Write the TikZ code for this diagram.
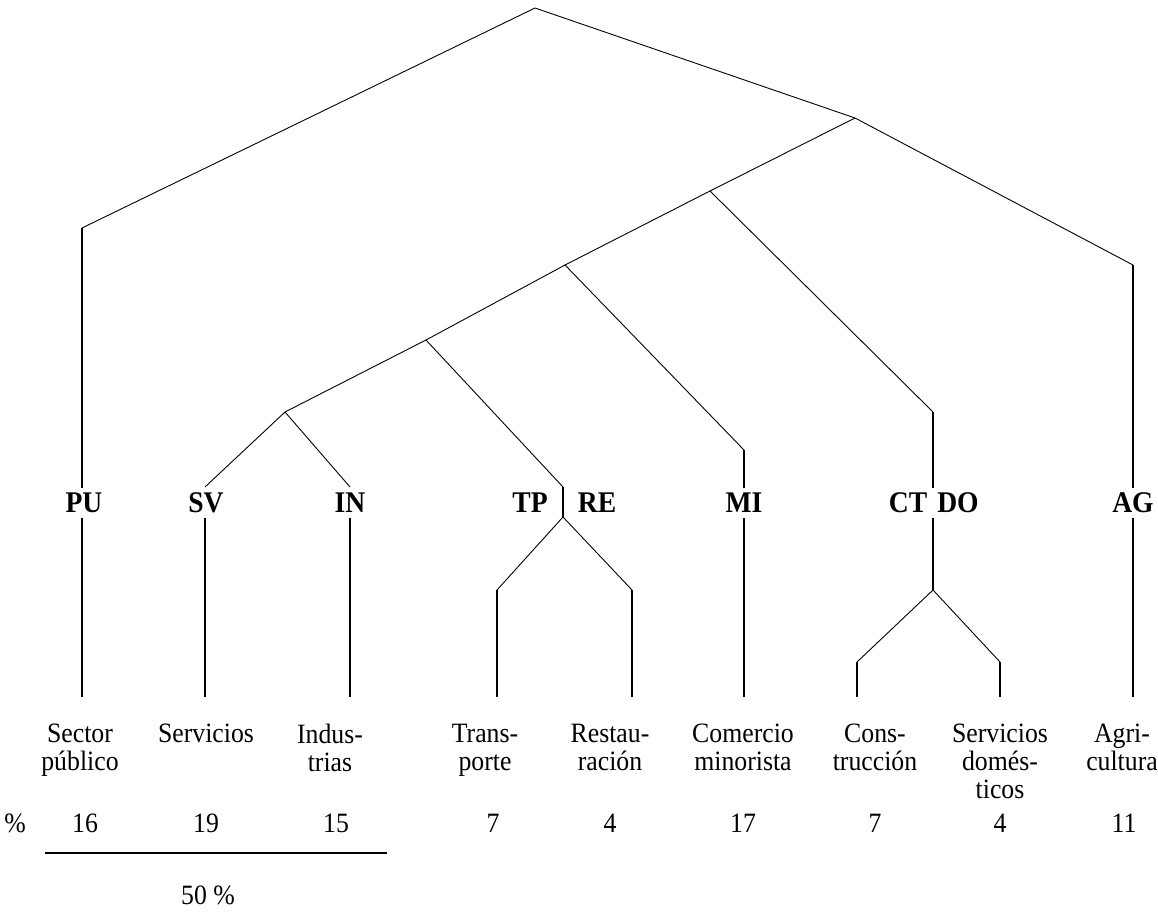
\documentclass[tikz,border=0pt]{standalone}
\usepackage{fontspec}
\setmainfont[FakeStretch=0.92]{Liberation Serif}
\tikzset{
    thin-branch/.style = {draw, line width=0.9pt},
    thick-stem/.style = {draw, line width=2pt},
    sector-code/.style = {font=\fontsize{30}{30}\selectfont\bfseries, inner sep=5pt},
    sector-name/.style = {font=\fontsize{28}{28}\selectfont, align=center, inner sep=0pt, anchor=north},
    sector-share/.style = {font=\fontsize{28}{28}\selectfont, inner sep=0pt, anchor=base},
}

\begin{document}
\begin{tikzpicture}[x=1pt, y=-1pt]
\useasboundingbox (0,0) rectangle (1158,923);

\coordinate (root) at (535,8);
\coordinate (fork-a) at (855,118);
\coordinate (fork-b) at (710,191);
\coordinate (fork-c) at (565,265);
\coordinate (fork-d) at (426,340);
\coordinate (fork-e) at (285,412);

\node[sector-code] (PU) at (84,503) {PU};
\node[sector-code] (SV) at (206,503) {SV};
\node[sector-code] (IN) at (350,503) {IN};
\node[sector-code] (TP) at (530,503) {TP};
\node[sector-code] (RE) at (597,503) {RE};
\node[sector-code] (MI) at (744,503) {MI};
\node[sector-code] (CT) at (908,503) {CT};
\node[sector-code] (DO) at (958,503) {DO};
\node[sector-code] (AG) at (1133,503) {AG};

\coordinate (PU-top) at (82,228);
\coordinate (AG-top) at (1133,265);
\coordinate (CTDO-top) at (933,412);
\coordinate (MI-top) at (744,450);
\coordinate (TPRE-top) at (563,487);
\coordinate (TPRE-fork) at (563,517);
\coordinate (CTDO-fork) at (933,590);
\coordinate (SV-top) at (205,487);
\coordinate (IN-top) at (350,487);
\coordinate (TP-end) at (497,590);
\coordinate (RE-end) at (632,590);
\coordinate (CT-end) at (857,662);
\coordinate (DO-end) at (1000,662);

\draw[thin-branch] (PU-top) -- (root) -- (fork-a) -- (AG-top);
\draw[thin-branch] (fork-a) -- (fork-b) -- (CTDO-top);
\draw[thin-branch] (fork-b) -- (fork-c) -- (MI-top);
\draw[thin-branch] (fork-c) -- (fork-d) -- (TPRE-top);
\draw[thin-branch] (fork-d) -- (fork-e) -- (SV-top);
\draw[thin-branch] (fork-e) -- (IN-top);
\draw[thin-branch] (TP-end) -- (TPRE-fork) -- (RE-end);
\draw[thin-branch] (CT-end) -- (CTDO-fork) -- (DO-end);

\draw[thick-stem] (PU-top) -- (PU-top |- PU.north);
\draw[thick-stem] (AG-top) -- (AG-top |- AG.north);
\draw[thick-stem] (CTDO-top) -- (CTDO-top |- CT.north);
\draw[thick-stem] (MI-top) -- (MI-top |- MI.north);
\draw[thick-stem] (TPRE-top) -- (TPRE-fork);
\draw[thick-stem] (CTDO-top |- CT.south) -- (CTDO-fork);

\node[sector-name] (PU-name) at (80,724) {Sector\\público};
\node[sector-name] (SV-name) at (206,724) {Servicios};
\node[sector-name] (IN-name) at (330,724) {Indus-\\trias};
\node[sector-name] (TP-name) at (485,724) {Trans-\\porte};
\node[sector-name] (RE-name) at (610,724) {Restau-\\ración};
\node[sector-name] (MI-name) at (743,724) {Comercio\\minorista};
\node[sector-name] (CT-name) at (875,724) {Cons-\\trucción};
\node[sector-name] (DO-name) at (1000,724) {Servicios\\domés-\\ticos};
\node[sector-name] (AG-name) at (1122,724) {Agri-\\cultura};

\coordinate (PU-end) at (82,697);
\coordinate (SV-end) at (205,697);
\coordinate (IN-end) at (350,697);
\coordinate (MI-end) at (744,697);
\coordinate (AG-end) at (1133,697);

\draw[thick-stem] (PU-top |- PU.south) -- (PU-end);
\draw[thick-stem] (SV-end |- SV.south) -- (SV-end);
\draw[thick-stem] (IN-end |- IN.south) -- (IN-end);
\draw[thick-stem] (MI-top |- MI.south) -- (MI-end);
\draw[thick-stem] (TP-end) -- (TP-end |- PU-end);
\draw[thick-stem] (RE-end) -- (RE-end |- PU-end);
\draw[thick-stem] (CT-end) -- (CT-end |- PU-end);
\draw[thick-stem] (DO-end) -- (DO-end |- PU-end);
\draw[thick-stem] (AG-top |- AG.south) -- (AG-end);

\node[sector-share] (pct) at (15,832) {\%};
\node[sector-share] (PU-share) at (85,832) {16};
\node[sector-share] (SV-share) at (206,832) {19};
\node[sector-share] (IN-share) at (336,832) {15};
\node[sector-share] (TP-share) at (493,832) {7};
\node[sector-share] (RE-share) at (610,832) {4};
\node[sector-share] (MI-share) at (743,832) {17};
\node[sector-share] (CT-share) at (875,832) {7};
\node[sector-share] (DO-share) at (1000,832) {4};
\node[sector-share] (AG-share) at (1124,832) {11};

\coordinate (sum-left) at (45,853);
\coordinate (sum-right) at (387,853);
\draw[thick-stem] (sum-left) -- (sum-right);
\node[sector-share] (sum) at (208,904) {50 \%};
\end{tikzpicture}
\end{document}
